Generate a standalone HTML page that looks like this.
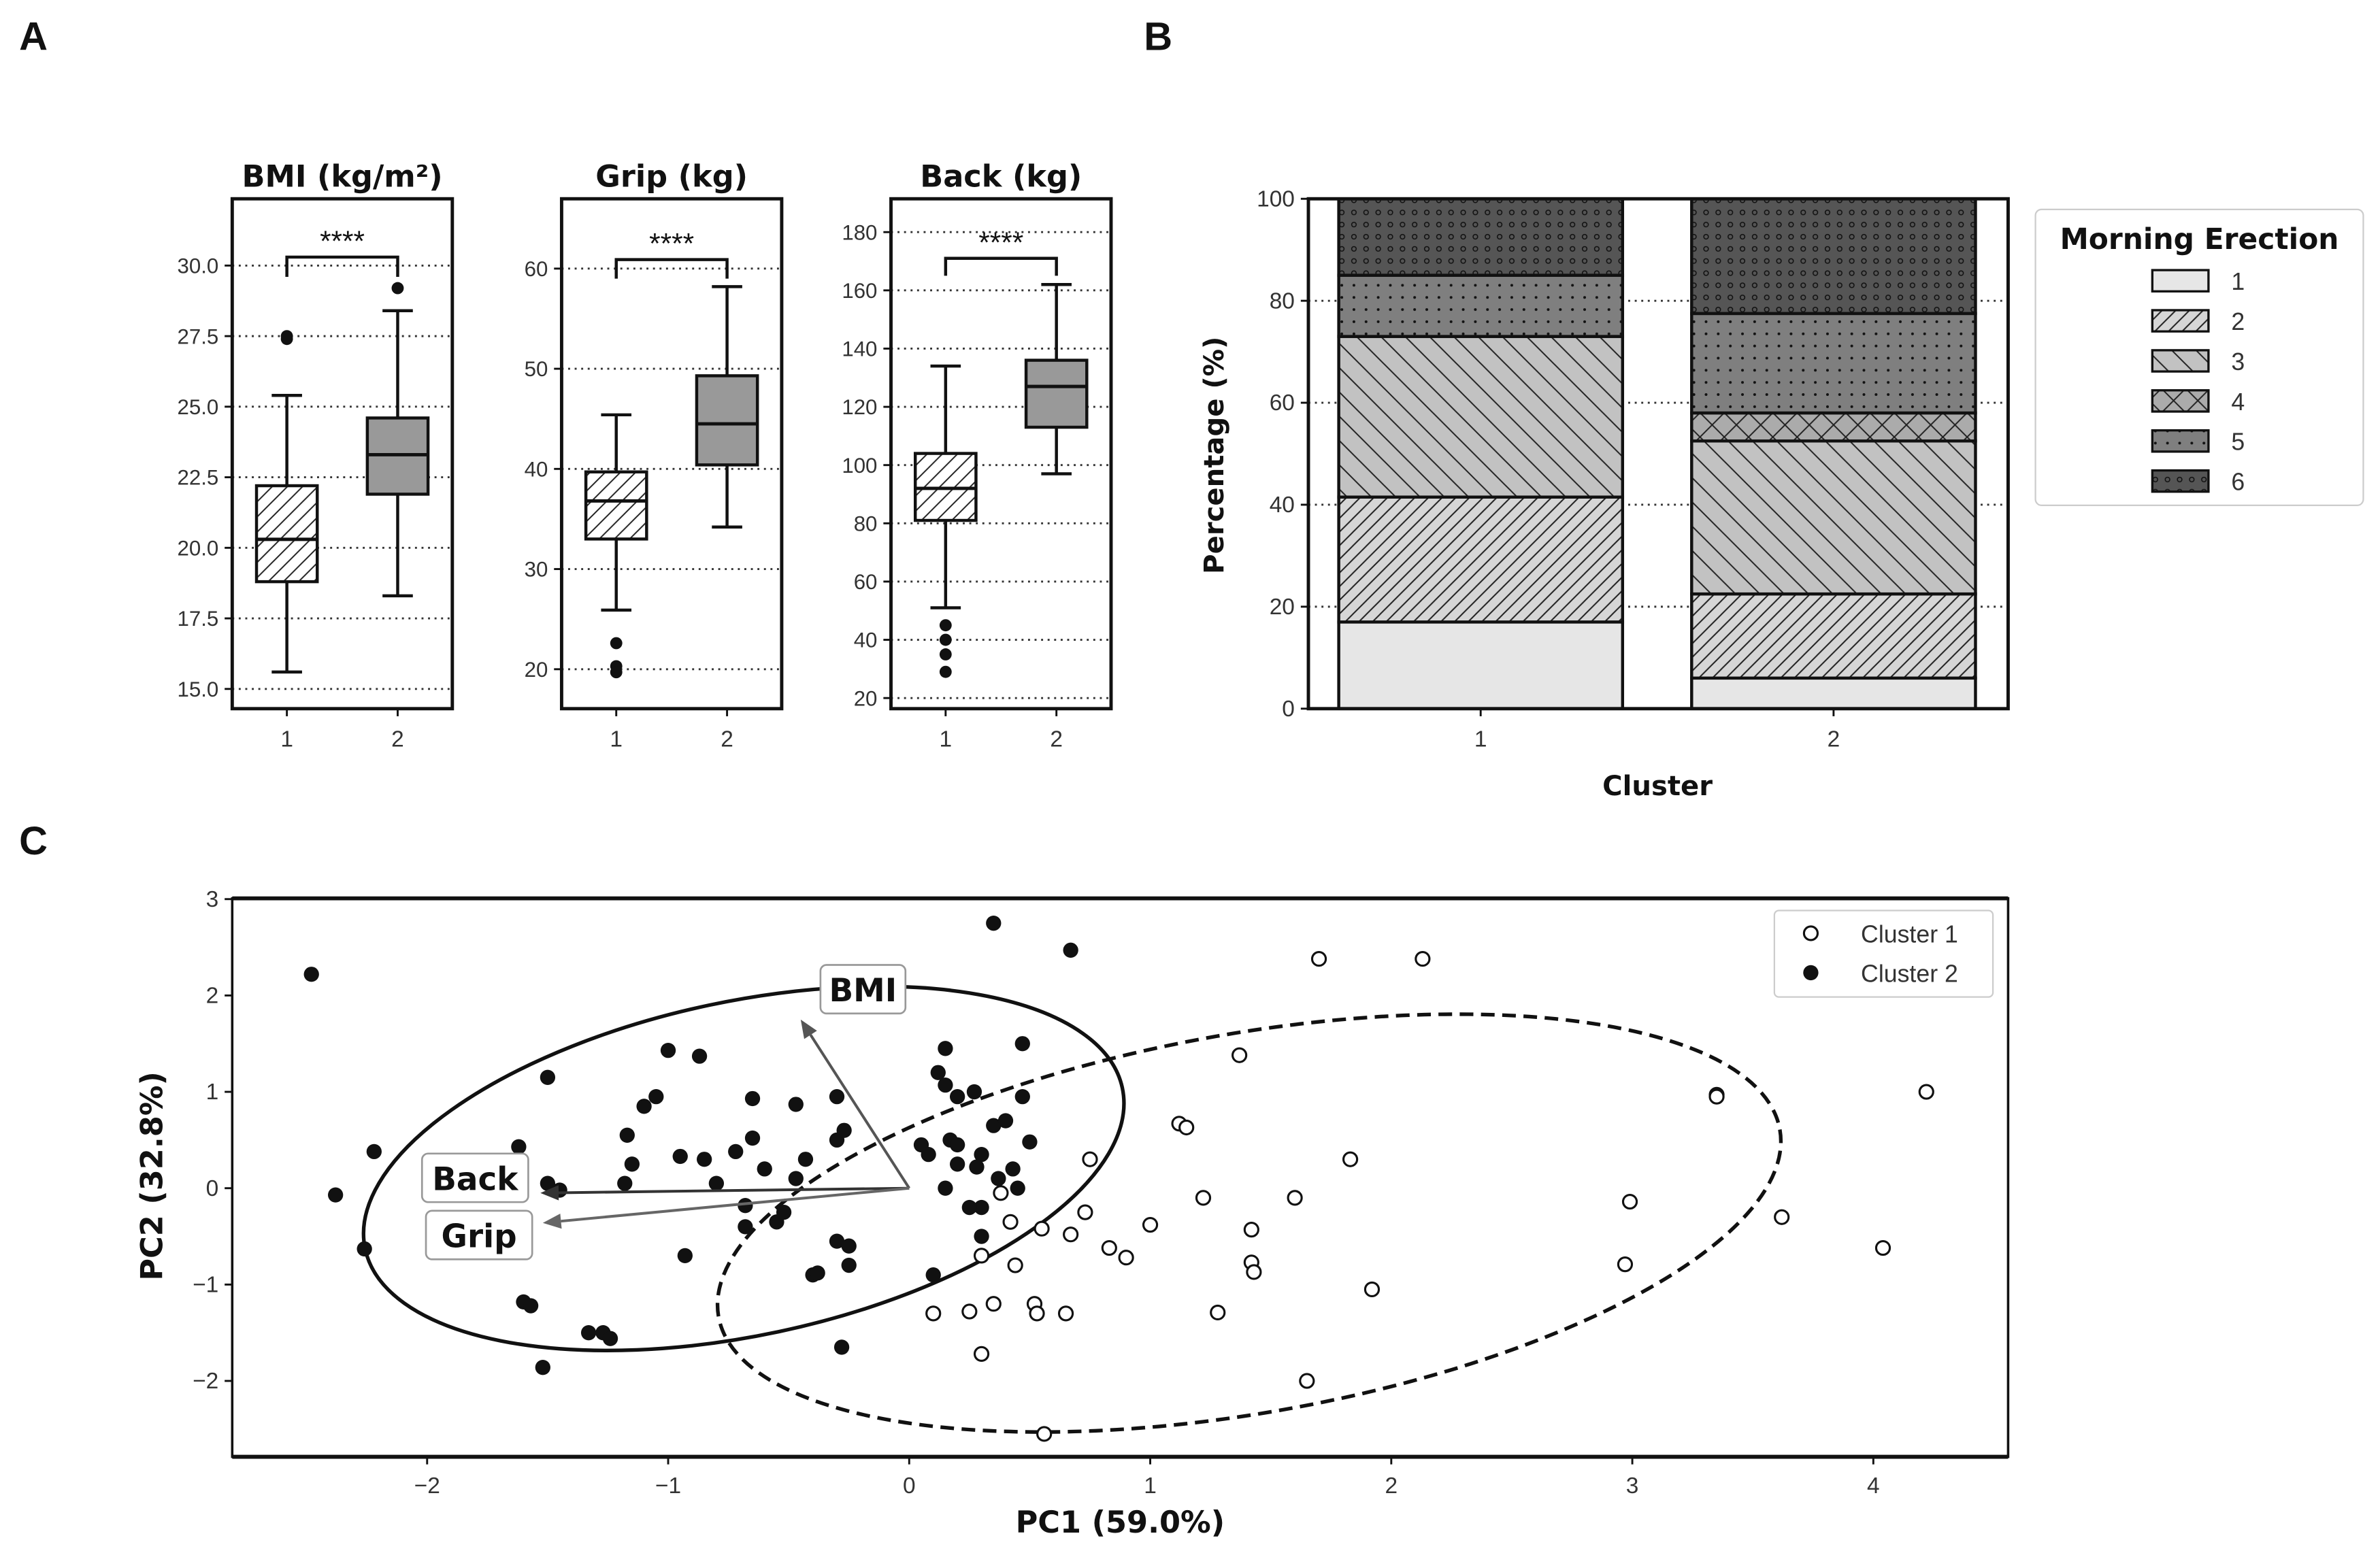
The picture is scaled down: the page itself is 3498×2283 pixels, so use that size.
<!DOCTYPE html>
<html><head><meta charset="utf-8"><style>
html,body{margin:0;padding:0;background:#fff;}
svg{display:block;font-family:"Liberation Sans","DejaVu Sans",sans-serif;}
</style></head><body>
<svg id="fig" xmlns="http://www.w3.org/2000/svg" width="3498" height="2283" viewBox="0 0 1568 1023.4" preserveAspectRatio="none">
<defs>
<pattern id="h2" patternUnits="userSpaceOnUse" width="9" height="9"><path d="M-2,11 L11,-2 M-2,2 L2,-2 M7,11 L11,7" stroke="#222" stroke-width="0.9"/></pattern>
<pattern id="h3" patternUnits="userSpaceOnUse" width="16" height="16"><path d="M-2,-2 L18,18 M-2,14 L2,18 M14,-2 L18,2" stroke="#222" stroke-width="0.9"/></pattern>
<pattern id="h4" patternUnits="userSpaceOnUse" width="16" height="16"><path d="M0,0 L16,16 M16,0 L0,16" stroke="#222" stroke-width="0.9"/></pattern>
<pattern id="h5" patternUnits="userSpaceOnUse" width="8" height="8"><circle cx="4" cy="4" r="0.9" fill="#111"/></pattern>
<pattern id="h6" patternUnits="userSpaceOnUse" width="8" height="8"><circle cx="4" cy="4" r="1.5" fill="none" stroke="#111" stroke-width="0.7"/></pattern>
<pattern id="hb" patternUnits="userSpaceOnUse" width="10" height="10"><path d="M-2,12 L12,-2 M-2,2 L2,-2 M8,12 L12,8" stroke="#222" stroke-width="0.9"/></pattern>
</defs>
</svg>
<script>
// ---------- data ----------
const boxVars = ["BMI (kg/m²)", "Grip (kg)", "Back (kg)"];
const bmiStats = [[15.6,18.8,20.3,22.2,25.4],[18.3,21.9,23.3,24.6,28.4]];
const bmiOut = [[27.5,27.4],[29.2]];
const gripStats = [[25.9,33.0,36.8,39.7,45.4],[34.2,40.4,44.5,49.3,58.2]];
const gripOut = [[22.6,20.3,19.7],[]];
const backStats = [[51,81,92,104,134],[97,113,127,136,162]];
const backOut = [[45,40,35,29],[]];
const bmiTicks = [15.0,17.5,20.0,22.5,25.0,27.5,30.0];
const gripTicks = [20,30,40,50,60];
const backTicks = [20,40,60,80,100,120,140,160,180];

const clusters = ["1","2"];
const meCats = ["1","2","3","4","5","6"];
const meC1 = [17,24.5,31.5,0,12,15];
const meC2 = [6,16.5,30,5.5,19.5,22.5];
const pctTicks = [0,20,40,60,80,100];

const c1x = [0.38,0.42,0.44,0.3,0.1,0.25,0.35,0.3,0.52,0.53,0.65,0.55,0.67,0.73,0.75,0.83,0.9,1.0,1.12,1.15,1.22,1.28,1.37,1.42,1.42,1.43,1.6,1.65,1.7,1.83,1.92,2.13,2.97,2.99,3.35,3.35,3.62,4.04,4.22,0.56];
const c1y = [-0.05,-0.35,-0.8,-0.7,-1.3,-1.28,-1.2,-1.72,-1.2,-1.3,-1.3,-0.42,-0.48,-0.25,0.3,-0.62,-0.72,-0.38,0.67,0.63,-0.1,-1.29,1.38,-0.43,-0.77,-0.87,-0.1,-2.0,2.38,0.3,-1.05,2.38,-0.79,-0.14,0.97,0.95,-0.3,-0.62,1.0,-2.55];
const c2x = [-2.48,-2.38,-2.22,-2.26,-1.62,-1.6,-1.57,-1.52,-1.5,-1.5,-1.45,-1.33,-1.27,-1.24,-1.18,-1.15,-1.17,-1.1,-1.05,-1.0,-0.95,-0.93,-0.87,-0.85,-0.8,-0.72,-0.68,-0.68,-0.65,-0.65,-0.6,-0.55,-0.52,-0.47,-0.47,-0.43,-0.4,-0.38,-0.3,-0.3,-0.3,-0.27,-0.25,-0.25,-0.28,0.05,0.08,0.1,0.12,0.15,0.15,0.17,0.2,0.2,0.15,0.2,0.27,0.3,0.35,0.3,0.3,0.35,0.4,0.45,0.47,0.67,0.47,0.5,0.25,0.28,0.37,0.43];
const c2y = [2.22,-0.07,0.38,-0.63,0.43,-1.18,-1.22,-1.86,1.15,0.05,-0.02,-1.5,-1.5,-1.56,0.05,0.25,0.55,0.85,0.95,1.43,0.33,-0.7,1.37,0.3,0.05,0.38,-0.4,-0.18,0.52,0.93,0.2,-0.35,-0.25,0.87,0.1,0.3,-0.9,-0.88,0.95,0.5,-0.55,0.6,-0.6,-0.8,-1.65,0.45,0.35,-0.9,1.2,1.45,1.07,0.5,0.95,0.45,0.0,0.25,1.0,0.35,2.75,-0.2,-0.5,0.65,0.7,0.0,1.5,2.47,0.95,0.48,-0.2,0.22,0.1,0.2];
const loadNames = ["BMI","Back","Grip"];
const loadX = [-0.45,-1.53,-1.52];
const loadY = [1.75,-0.05,-0.36];
const pcXTicks = [-2,-1,0,1,2,3,4];
const pcYTicks = [-2,-1,0,1,2,3];

// ---------- helpers ----------
const NS="http://www.w3.org/2000/svg";
const svg=document.getElementById('fig');
function mk(tag,attrs,parent){const e=document.createElementNS(NS,tag);for(const k in attrs)e.setAttribute(k,attrs[k]);(parent||svg).appendChild(e);return e;}
function txt(s,x,y,size,opts,parent){const e=mk('text',Object.assign({x:x,y:y,'font-size':size,'text-anchor':'middle',fill:'#111'},opts||{}),parent);e.textContent=s;return e;}

let t;
t=txt("A",22,33,26,{'font-weight':'bold'});


t=txt("B",763,33,26,{'font-weight':'bold'});


t=txt("C",22,563,26,{'font-weight':'bold'});



// ---------- Panel A boxplots ----------
const panels=[
 {x0:153,stats:bmiStats,out:bmiOut,ticks:bmiTicks,v0:15,p0:454,k:18.6,fmt:v=>v.toFixed(1),br:[30.3,29.6],name:'bmi'},
 {x0:370,stats:gripStats,out:gripOut,ticks:gripTicks,v0:20,p0:441,k:6.6,fmt:v=>String(v),br:[60.9,59.0],name:'grip'},
 {x0:587,stats:backStats,out:backOut,ticks:backTicks,v0:20,p0:460,k:1.919,fmt:v=>String(v),br:[171,165],name:'back'}
];
panels.forEach((P,pi)=>{
  const g=mk('g',{});
  
  
  const Y=v=>P.p0-(v-P.v0)*P.k;
  const X=i=>P.x0+36+i*73;
  const top=131,bot=467,w=145;
  P.ticks.forEach(v=>{
    const l=mk('line',{x1:P.x0,x2:P.x0+w,y1:Y(v),y2:Y(v),stroke:'#333','stroke-width':1.3,'stroke-dasharray':'1.3 3'},g);
    
    
    mk('line',{x1:P.x0-5,x2:P.x0,y1:Y(v),y2:Y(v),stroke:'#111','stroke-width':1.3},g);
    const tl=txt(P.fmt(v),P.x0-9,Y(v)+5,14,{'text-anchor':'end',fill:'#333'},g);
    
    
  });
  P.stats.forEach((s,i)=>{
    const cx=X(i),hw=20;
    mk('line',{x1:cx,x2:cx,y1:Y(s[0]),y2:Y(s[1]),stroke:'#111','stroke-width':2},g);
    mk('line',{x1:cx,x2:cx,y1:Y(s[3]),y2:Y(s[4]),stroke:'#111','stroke-width':2},g);
    mk('line',{x1:cx-10,x2:cx+10,y1:Y(s[0]),y2:Y(s[0]),stroke:'#111','stroke-width':2},g);
    mk('line',{x1:cx-10,x2:cx+10,y1:Y(s[4]),y2:Y(s[4]),stroke:'#111','stroke-width':2},g);
    if(i===0) mk('rect',{x:cx-hw,y:Y(s[3]),width:2*hw,height:Y(s[1])-Y(s[3]),fill:'#fff'},g);
    const b=mk('rect',{x:cx-hw,y:Y(s[3]),width:2*hw,height:Y(s[1])-Y(s[3]),fill:i===0?'url(#hb)':'#999',stroke:'#111','stroke-width':2},g);
    
    
    mk('line',{x1:cx-hw,x2:cx+hw,y1:Y(s[2]),y2:Y(s[2]),stroke:'#111','stroke-width':2.2},g);
    P.out[i].forEach(o=>{
      const c=mk('circle',{cx:cx,cy:Y(o),r:4,fill:'#111'},g);
      
      
    });
    mk('line',{x1:cx,x2:cx,y1:bot,y2:bot+5,stroke:'#111','stroke-width':1.3},g);
    const xl=txt(clusters[i],cx,bot+25,15,{fill:'#333'},g);
    
    
  });
  const br=mk('path',{d:`M${X(0)},${Y(P.br[1])} L${X(0)},${Y(P.br[0])} L${X(1)},${Y(P.br[0])} L${X(1)},${Y(P.br[1])}`,fill:'none',stroke:'#111','stroke-width':2},g);
  
  
  const st=txt('****',(X(0)+X(1))/2,Y(P.br[0])-4,19,{},g);
  
  
  const fr=mk('rect',{x:P.x0,y:top,width:w,height:bot-top,fill:'none',stroke:'#111','stroke-width':2.2},g);
  
  
  const ti=txt(boxVars[pi],P.x0+w/2,123,20,{'font-weight':'bold','font-family':'"DejaVu Sans",sans-serif'},g);
  
  
});

// ---------- Panel B stacked bars ----------
(function(){
  const g=mk('g',{});
  
  
  const L=862,R=1323,T=131,B=467;
  const Y=v=>B-(v/100)*(B-T);
  const X=i=>975.5+i*232.5;
  const fills=['#e6e6e6','#d6d6d6','#c2c2c2','#ababab','#7f7f7f','#555555'];
  const pats=[null,'h2','h3','h4','h5','h6'];
  pctTicks.forEach(v=>{
    const l=mk('line',{x1:L,x2:R,y1:Y(v),y2:Y(v),stroke:'#333','stroke-width':1.3,'stroke-dasharray':'1.3 3'},g);
    
    
    mk('line',{x1:L-5,x2:L,y1:Y(v),y2:Y(v),stroke:'#111','stroke-width':1.3},g);
    const tl=txt(String(v),L-9,Y(v)+5,15,{'text-anchor':'end',fill:'#333'},g);
    
    
  });
  [meC1,meC2].forEach((vals,i)=>{
    let cum=0;const hw=93.5;
    vals.forEach((v,j)=>{
      const y1=Y(cum+v),y0=Y(cum);
      if(v>0){
        mk('rect',{x:X(i)-hw,y:y1,width:2*hw,height:y0-y1,fill:fills[j]},g);
        if(pats[j]) mk('rect',{x:X(i)-hw,y:y1,width:2*hw,height:y0-y1,fill:'url(#'+pats[j]+')'},g);
        const r=mk('rect',{x:X(i)-hw,y:y1,width:2*hw,height:y0-y1,fill:'none',stroke:'#111','stroke-width':2},g);
        
        
      }
      cum+=v;
    });
    mk('line',{x1:X(i),x2:X(i),y1:B,y2:B+5,stroke:'#111','stroke-width':1.3},g);
    const xl=txt(clusters[i],X(i),B+25,15,{fill:'#333'},g);
    
    
  });
  const fr=mk('rect',{x:L,y:T,width:R-L,height:B-T,fill:'none',stroke:'#111','stroke-width':2.2},g);
  
  
  const xt=txt('Cluster',1092,524,18,{'font-weight':'bold','font-family':'"DejaVu Sans",sans-serif'},g);
  
  
  const yt=txt('Percentage (%)',0,0,18,{'font-weight':'bold','font-family':'"DejaVu Sans",sans-serif',transform:'translate(806,300) rotate(-90)'},g);
  
  
  const lg=mk('g',{},g);
  
  
  mk('rect',{x:1341,y:138,width:216,height:195,rx:4,fill:'#fff',stroke:'#ccc','stroke-width':1},lg);
  const lt=txt('Morning Erection',1449,164,19,{'font-weight':'bold','font-family':'"DejaVu Sans",sans-serif'},lg);
  
  
  meCats.forEach((c,j)=>{
    const y=185+j*26.4;
    mk('rect',{x:1418,y:y-7,width:37,height:14,fill:fills[j]},lg);
    if(pats[j]) mk('rect',{x:1418,y:y-7,width:37,height:14,fill:'url(#'+pats[j]+')'},lg);
    const r=mk('rect',{x:1418,y:y-7,width:37,height:14,fill:'none',stroke:'#111','stroke-width':1.5},lg);
    
    
    const l=txt(c,1470,y+6,16,{'text-anchor':'start',fill:'#333'},lg);
    
    
  });
})();

// ---------- Panel C PCA ----------
(function(){
  const g=mk('g',{});
  
  
  const L=153,R=1323,T=592,B=960;
  const X=v=>599+v*158.8;
  const Y=v=>783-v*63.5;
  pcXTicks.forEach(v=>{
    mk('line',{x1:X(v),x2:X(v),y1:B,y2:B+5,stroke:'#111','stroke-width':1.3},g);
    const l=txt(v<0?'\u2212'+(-v):String(v),X(v),B+24,15,{fill:'#333'},g);
    
    
  });
  pcYTicks.forEach(v=>{
    mk('line',{x1:L-5,x2:L,y1:Y(v),y2:Y(v),stroke:'#111','stroke-width':1.3},g);
    const l=txt(v<0?'\u2212'+(-v):String(v),L-9,Y(v)+5,15,{'text-anchor':'end',fill:'#333'},g);
    
    
  });
  const e1=mk('ellipse',{cx:490,cy:770,rx:255,ry:110,transform:'rotate(-12 490 770)',fill:'none',stroke:'#111','stroke-width':2.4},g);
  
  
  const e2=mk('ellipse',{cx:823,cy:806,rx:355,ry:125,transform:'rotate(-10 823 806)',fill:'none',stroke:'#111','stroke-width':2.4,'stroke-dasharray':'9 5'},g);
  
  
  c2x.forEach((x,i)=>{
    const c=mk('circle',{cx:X(x),cy:Y(c2y[i]),r:5,fill:'#111'},g);
    
    
  });
  c1x.forEach((x,i)=>{
    const c=mk('circle',{cx:X(x),cy:Y(c1y[i]),r:4.5,fill:'#fff',stroke:'#111','stroke-width':1.4},g);
    
    
  });
  const lblOff=[[41,-20],[-43,-10],[-42,8]];
  loadNames.forEach((n,i)=>{
    const x2=X(loadX[i]),y2=Y(loadY[i]),x1=X(0),y1=Y(0);
    const a=Math.atan2(y2-y1,x2-x1),hl=12,hw=5;
    const bx=x2-hl*Math.cos(a),by=y2-hl*Math.sin(a);
    const col=i===0?'#555':(i===1?'#333':'#666');
    const ln=mk('line',{x1:x1,y1:y1,x2:bx,y2:by,stroke:col,'stroke-width':1.8},g);
    
    
    mk('polygon',{points:`${x2},${y2} ${bx+hw*Math.sin(a)},${by-hw*Math.cos(a)} ${bx-hw*Math.sin(a)},${by+hw*Math.cos(a)}`,fill:col},g);
    const lx=x2+lblOff[i][0],ly=y2+lblOff[i][1];
    const w=n.length*14+14;
    mk('rect',{x:lx-w/2,y:ly-16,width:w,height:32,rx:4,fill:'#fff',stroke:'#999','stroke-width':1.2},g);
    const l=txt(n,lx,ly+8,21,{'font-weight':'bold','font-family':'"DejaVu Sans",sans-serif'},g);
    
    
  });
  const fr=mk('rect',{x:L,y:T,width:R-L,height:B-T,fill:'none',stroke:'#111','stroke-width':1.6},g);
  
  
  mk('line',{x1:L,x2:R,y1:T,y2:T,stroke:'#111','stroke-width':2.6},g);
  mk('line',{x1:L,x2:R,y1:B,y2:B,stroke:'#111','stroke-width':2.6},g);
  const xt=txt('PC1 (59.0%)',738,1010,20,{'font-weight':'bold','font-family':'"DejaVu Sans",sans-serif'},g);
  
  
  const yt=txt('PC2 (32.8%)',0,0,20,{'font-weight':'bold','font-family':'"DejaVu Sans",sans-serif',transform:'translate(107,775) rotate(-90)'},g);
  
  
  const lg=mk('g',{},g);
  
  
  mk('rect',{x:1169,y:600,width:144,height:57,rx:3,fill:'#fff',stroke:'#ccc','stroke-width':1},lg);
  mk('circle',{cx:1193,cy:615,r:4.5,fill:'#fff',stroke:'#111','stroke-width':1.4},lg);
  mk('circle',{cx:1193,cy:641,r:5,fill:'#111'},lg);
  let l=txt('Cluster 1',1226,621,16,{'text-anchor':'start',fill:'#333'},lg);
  
  
  l=txt('Cluster 2',1226,647,16,{'text-anchor':'start',fill:'#333'},lg);
  
  
})();
</script>
</body></html>
